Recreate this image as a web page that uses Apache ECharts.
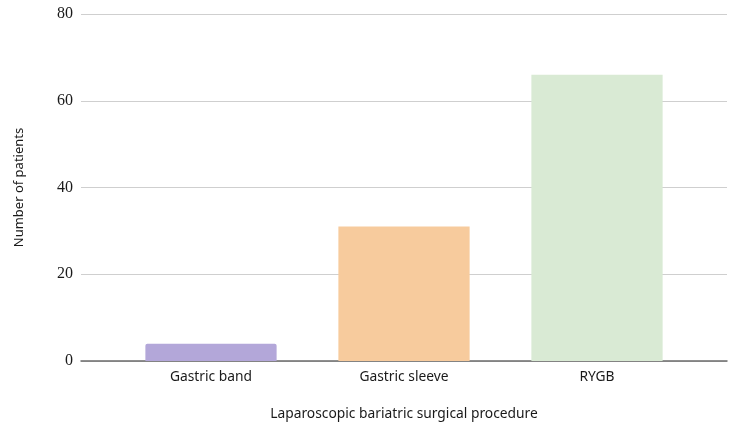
<!DOCTYPE html>
<html><head><meta charset="utf-8">
<script src="https://cdn.jsdelivr.net/npm/echarts@6/dist/echarts.min.js"></script>
<style>html,body{margin:0;padding:0;background:#fff}#c{width:750px;height:428px}</style>
</head><body><div id="c"></div>
<script>
const categories = ["Gastric band", "Gastric sleeve", "RYGB"];
const patients = [4, 31, 66];
const barColors = ["#b3a7d9", "#f7cb9d", "#d9ead4"];
const yTicks = [0, 20, 40, 60, 80];

const chart = echarts.init(document.getElementById('c'));
const gTop = 14, gBottom = 428 - 361;
const txt = {fontFamily: 'Noto Sans', fontSize: 13.8, color: '#1a1a1a'};
chart.setOption({
  animation: false,
  grid: [
    {left: 81, right: 23, top: gTop, bottom: gBottom},
    {left: 114.5, right: 56.5, top: gTop, bottom: gBottom}
  ],
  xAxis: [
    {gridIndex: 0, type: 'value', min: 0, max: 1, show: true,
     axisLine: {show: true, onZero: false, lineStyle: {color: '#6b6b6b', width: 1.5}},
     axisTick: {show: false}, axisLabel: {show: false}, splitLine: {show: false},
     name: 'Laparoscopic bariatric surgical procedure', nameLocation: 'middle', nameGap: 46,
     nameTextStyle: txt},
    {gridIndex: 1, type: 'category', data: categories,
     axisLine: {show: false}, axisTick: {show: false},
     axisLabel: Object.assign({margin: 9}, txt)}
  ],
  yAxis: [
    {gridIndex: 0, type: 'value', min: yTicks[0], max: yTicks[yTicks.length-1], interval: 20,
     axisLine: {show: false}, axisTick: {show: false},
     axisLabel: {fontFamily: 'Liberation Serif', fontSize: 16, color: '#1a1a1a', margin: 8},
     splitLine: {lineStyle: {color: '#cfcfcf', width: 1}},
     name: 'Number of patients', nameLocation: 'middle', nameGap: 55,
     nameTextStyle: Object.assign({}, txt, {fontSize: 13})},
    {gridIndex: 1, type: 'value', min: 0, max: 80, show: false}
  ],
  series: [{
    type: 'bar', xAxisIndex: 1, yAxisIndex: 1,
    data: patients.map((v, i) => ({value: v, itemStyle: {color: barColors[i], borderRadius: i === 0 ? [2, 2, 0, 0] : 0}})),
    barWidth: '68%'
  }]
});
</script></body></html>
